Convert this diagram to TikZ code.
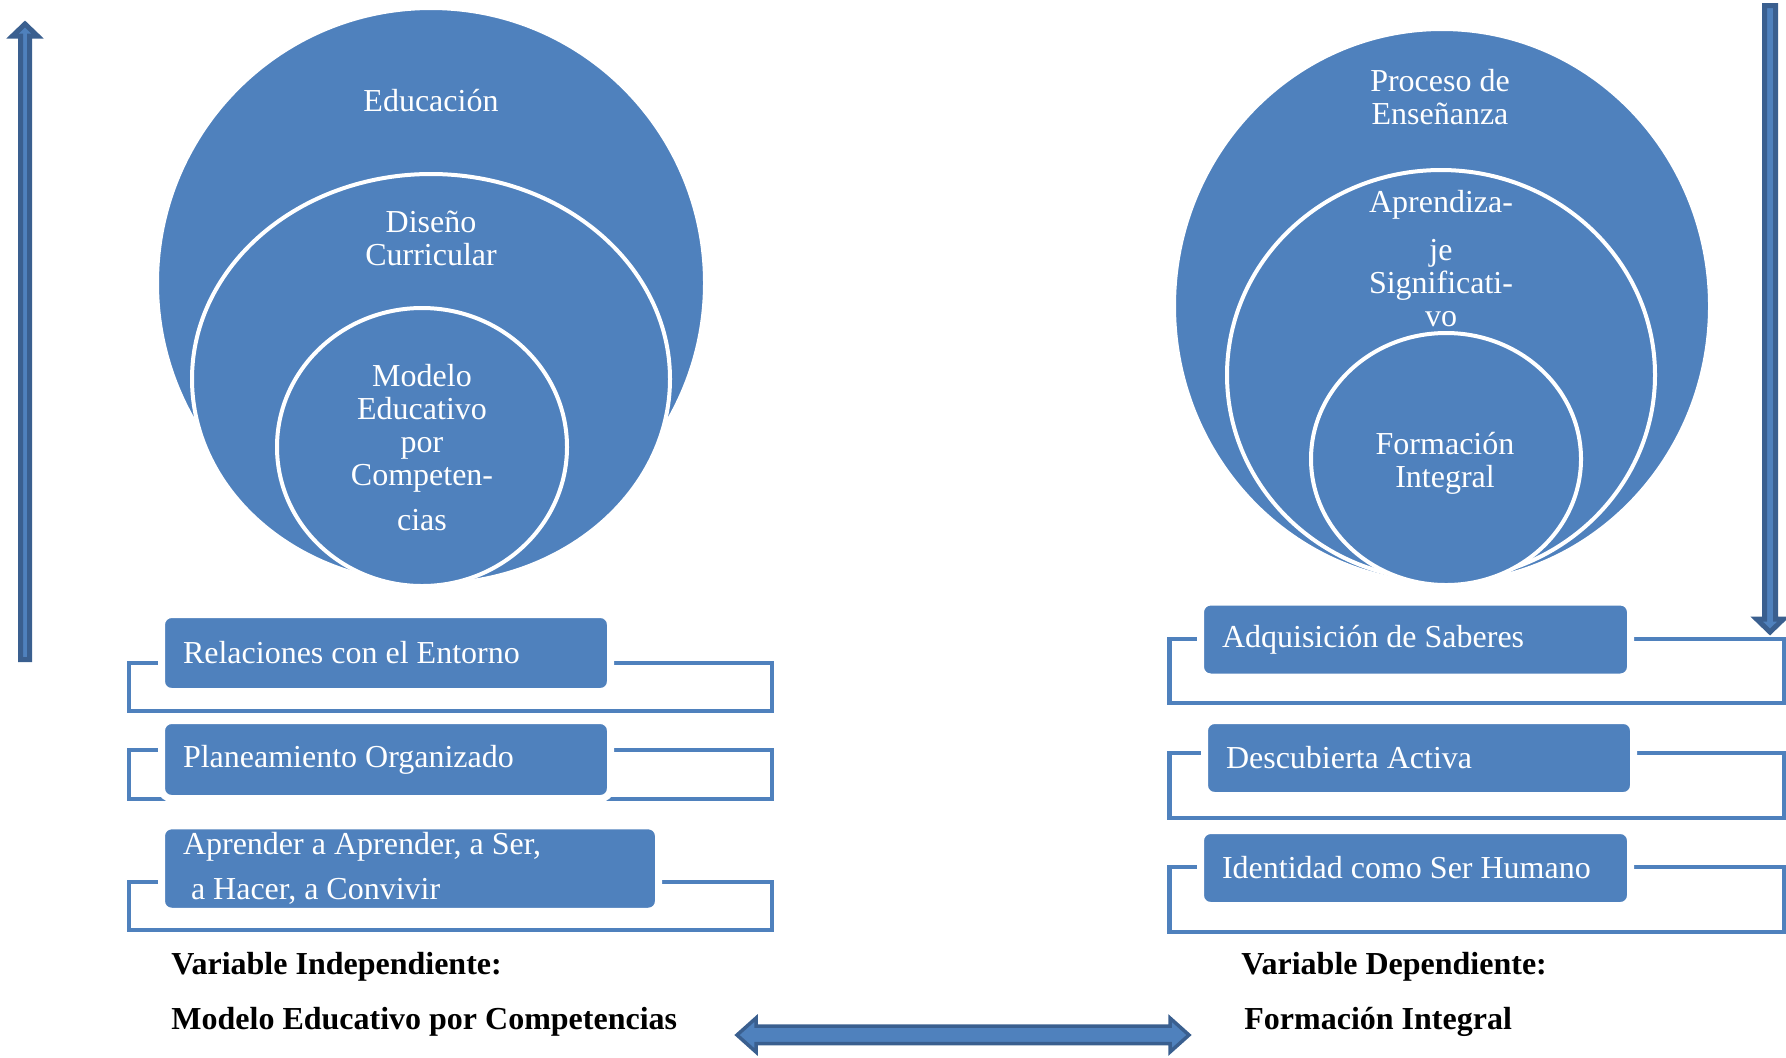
\documentclass[tikz,border=0pt]{standalone}
\usepackage{fontspec}
\setmainfont{Liberation Serif}
\usetikzlibrary{shapes,arrows}
\definecolor{azul}{HTML}{4F81BD}
\definecolor{azulosc}{HTML}{3A5F8F}
\tikzset{
  circ/.style = {ellipse, fill=azul, draw=white, line width=2pt,
    inner sep=0pt},% circulo relleno
  circ_t/.style = {align=flush center, text=white, inner sep=0pt,
    font=\fontsize{16}{16.5}\selectfont},% texto del circulo
  caja/.style = {rectangle, rounded corners=5pt, fill=azul, draw=white,
    line width=3.5pt, text=white, align=flush left, inner xsep=10.75pt,
    font=\fontsize{16}{22.5}\selectfont},% caja de la lista
  llave/.style = {draw=azul, line width=2.25pt},% corchete
  var_t/.style = {anchor=west, inner sep=0pt,
    font=\fontsize{16}{16}\selectfont\bfseries},% nombre de variable
  flecha/.style = {fill=azul, draw=azulosc, line width=2.5pt}% flecha
}
\begin{document}
\begin{tikzpicture}[x=0.5pt,y=-0.5pt]
\useasboundingbox (0,0) rectangle (1786,1057);

% circulos izquierda
\node [circ, minimum width=274pt, minimum height=275pt] (edu) at (431,283) {};
\node [circ, minimum width=239pt, minimum height=205pt] (dis) at (431,379) {};
\node [circ, minimum width=145pt, minimum height=139pt] (mod) at (422,447) {};
\node [circ_t] (edu_t) at (431,101) {Educación};
\node [circ_t] (dis_t) at (431,238) {Diseño\\Curricular};
\node [circ_t] (mod_t) at (422,448) {Modelo\\Educativo\\por\\Competen-\\[6pt]cias};

% circulos derecha
\node [circ, minimum width=268pt, minimum height=277pt] (pro) at (1442,306) {};
\node [circ, minimum width=214pt, minimum height=205pt] (apr) at (1441,375) {};
\node [circ, minimum width=135pt, minimum height=126pt] (for) at (1446,459) {};
\node [circ_t] (pro_t) at (1440,97) {Proceso de\\Enseñanza};
\node [circ_t] (apr_t) at (1441,259) {Aprendiza-\\[7.5pt]je\\Significati-\\vo};
\node [circ_t] (for_t) at (1445,463) {Formación\\Integral};

% corchetes
\draw [llave] (129,663) rectangle (772,711);
\draw [llave] (129,750) rectangle (772,799);
\draw [llave] (129,882) rectangle (772,930);
\draw [llave] (1169.5,639) rectangle (1784,703);
\draw [llave] (1169.5,753) rectangle (1784,818);
\draw [llave] (1169.5,867) rectangle (1784,932);

% cajas
\node [caja, text width=203pt, minimum height=38.5pt] (rel) at (386,653) {Relaciones con el Entorno};
\node [caja, text width=203pt, minimum height=39pt] (pla) at (386,759.5) {Planeamiento Organizado};
\node [caja, text width=227pt, minimum height=42pt] (apa) at (410,868.5) {Aprender a Aprender, a Ser,\\\hspace*{0.25em}a Hacer, a Convivir};
\node [caja, text width=193.5pt, minimum height=37.5pt] (adq) at (1415.5,639.5) {Adquisición de Saberes};
\node [caja, text width=193pt, minimum height=37.5pt] (des) at (1419,758) {Descubierta Activa};
\node [caja, text width=193.5pt, minimum height=37.5pt] (ide) at (1415.5,868) {Identidad como Ser Humano};

% flechas
\draw [flecha] (20.5,659.5) -- (20.5,36) -- (12.5,36) -- (25,24) -- (37.5,36)
  -- (29.5,36) -- (29.5,659.5) -- cycle;
\draw [flecha] (1764.5,5.5) -- (1764.5,619) -- (1756.5,619) -- (1770,632)
  -- (1783.5,619) -- (1775.5,619) -- (1775.5,5.5) -- cycle;
\draw [flecha, line width=1.75pt] (737,1035) -- (756,1018) -- (756,1026)
  -- (1170,1026) -- (1170,1018) -- (1189,1035) -- (1170,1052) -- (1170,1043.5)
  -- (756,1043.5) -- (756,1052) -- cycle;

% variables
\node [var_t] (vi) at (171,966.5) {Variable Independiente:};
\node [var_t] (vi_n) at (171,1021.5) {Modelo Educativo por Competencias};
\node [var_t] (vd) at (1241,966.5) {Variable Dependiente:};
\node [var_t] (vd_n) at (1244,1021.5) {Formación Integral};
\end{tikzpicture}
\end{document}
